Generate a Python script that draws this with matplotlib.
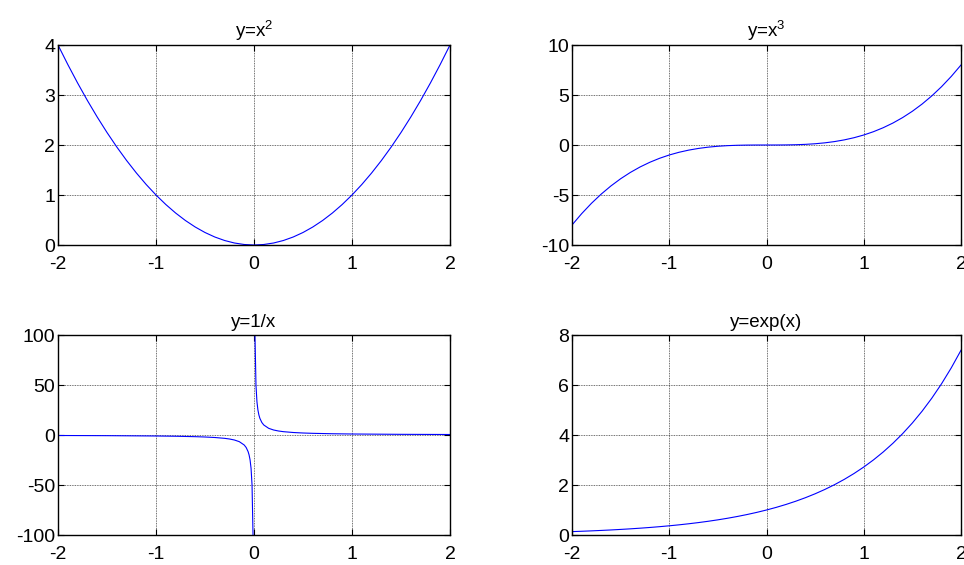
"""
Cuatro funciones en una rejilla 2x2 al estilo de subplot de MATLAB.
"""
import matplotlib
matplotlib.use('Agg')
import matplotlib.pyplot as plt

# Valores (paso 0.1 en x)
X = [-2.0, -1.9, -1.8, -1.7, -1.6, -1.5, -1.4, -1.3, -1.2, -1.1,
     -1.0, -0.9, -0.8, -0.7, -0.6, -0.5, -0.4, -0.3, -0.2, -0.1,
     0.0, 0.1, 0.2, 0.3, 0.4, 0.5, 0.6, 0.7, 0.8, 0.9,
     1.0, 1.1, 1.2, 1.3, 1.4, 1.5, 1.6, 1.7, 1.8, 1.9, 2.0]

Y_CUAD = [4.0, 3.61, 3.24, 2.89, 2.56, 2.25, 1.96, 1.69, 1.44, 1.21,
          1.0, 0.81, 0.64, 0.49, 0.36, 0.25, 0.16, 0.09, 0.04, 0.01,
          0.0, 0.01, 0.04, 0.09, 0.16, 0.25, 0.36, 0.49, 0.64, 0.81,
          1.0, 1.21, 1.44, 1.69, 1.96, 2.25, 2.56, 2.89, 3.24, 3.61, 4.0]

Y_CUBO = [-8.0, -6.859, -5.832, -4.913, -4.096, -3.375, -2.744, -2.197, -1.728, -1.331,
          -1.0, -0.729, -0.512, -0.343, -0.216, -0.125, -0.064, -0.027, -0.008, -0.001,
          0.0, 0.001, 0.008, 0.027, 0.064, 0.125, 0.216, 0.343, 0.512, 0.729,
          1.0, 1.331, 1.728, 2.197, 2.744, 3.375, 4.096, 4.913, 5.832, 6.859, 8.0]

Y_EXP = [0.1353, 0.1496, 0.1653, 0.1827, 0.2019, 0.2231, 0.2466, 0.2725, 0.3012, 0.3329,
         0.3679, 0.4066, 0.4493, 0.4966, 0.5488, 0.6065, 0.6703, 0.7408, 0.8187, 0.9048,
         1.0, 1.1052, 1.2214, 1.3499, 1.4918, 1.6487, 1.8221, 2.0138, 2.2255, 2.4596,
         2.7183, 3.0042, 3.3201, 3.6693, 4.0552, 4.4817, 4.9530, 5.4739, 6.0496, 6.6859, 7.3891]

# 1/x: más denso cerca de 0, con corte (nan) en x=0
X_INV = [-2.0, -1.5, -1.0, -0.8, -0.6, -0.5, -0.4, -0.3, -0.25, -0.2, -0.15, -0.1,
         -0.08, -0.06, -0.05, -0.04, -0.03, -0.02, -0.01, float('nan'),
         0.01, 0.02, 0.03, 0.04, 0.05, 0.06, 0.08, 0.1, 0.15, 0.2, 0.25, 0.3,
         0.4, 0.5, 0.6, 0.8, 1.0, 1.5, 2.0]
Y_INV = [-0.5, -0.6667, -1.0, -1.25, -1.6667, -2.0, -2.5, -3.3333, -4.0, -5.0, -6.6667, -10.0,
         -12.5, -16.6667, -20.0, -25.0, -33.3333, -50.0, -100.0, float('nan'),
         100.0, 50.0, 33.3333, 25.0, 20.0, 16.6667, 12.5, 10.0, 6.6667, 5.0, 4.0, 3.3333,
         2.5, 2.0, 1.6667, 1.25, 1.0, 0.6667, 0.5]

TITULOS = ['y=x$^2$', 'y=x$^3$', 'y=1/x', 'y=exp(x)']
YLIMS = [(0, 4), (-10, 10), (-100, 100), (0, 8)]
YTICKS = [[0, 1, 2, 3, 4], [-10, -5, 0, 5, 10], [-100, -50, 0, 50, 100], [0, 2, 4, 6, 8]]
XTICKS = [-2, -1, 0, 1, 2]

plt.rcParams['font.family'] = ['Liberation Sans', 'DejaVu Sans']
plt.rcParams['mathtext.default'] = 'regular'

W, H = 964, 565
fig = plt.figure(figsize=(W / 100, H / 100), dpi=100)
fig.patch.set_facecolor('white')

# posiciones en píxeles: (izq, der, arriba, abajo)
cajas = [(58, 450, 45, 245), (572, 961, 45, 245),
         (58, 450, 335, 535), (572, 961, 335, 535)]
series = [(X, Y_CUAD), (X, Y_CUBO), (X_INV, Y_INV), (X, Y_EXP)]

for i, (l, r, t, b) in enumerate(cajas):
    ax = fig.add_axes([l / W, 1 - b / H, (r - l) / W, (b - t) / H])
    xs, ys = series[i]
    ax.plot(xs, ys, color='blue', lw=0.8)
    ax.set_xlim(-2, 2)
    ax.set_ylim(*YLIMS[i])
    ax.set_xticks(XTICKS)
    ax.set_yticks(YTICKS[i])
    ax.set_xticklabels([str(v) for v in XTICKS])
    ax.set_yticklabels([str(v) for v in YTICKS[i]])
    ax.tick_params(direction='in', length=4, width=0.8, labelsize=14,
                   top=True, right=True)
    ax.tick_params(axis='x', pad=8)
    ax.tick_params(axis='y', pad=2)
    ax.grid(True, color='0.25', linestyle=(0, (1, 1)), linewidth=0.6)
    for s in ax.spines.values():
        s.set_linewidth(1.0)
        s.set_color('black')
    ax.set_title(TITULOS[i], fontsize=13.5, pad=6)

fig.savefig('out.png', dpi=100, facecolor='white')
